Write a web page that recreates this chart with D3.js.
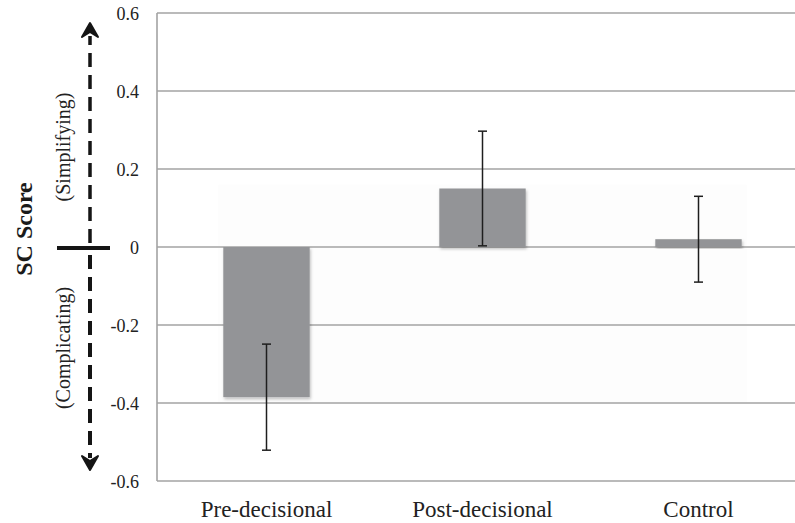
<!DOCTYPE html>
<html>
<head>
<meta charset="utf-8">
<script src="https://cdn.jsdelivr.net/npm/d3@7"></script>
<style>
  html, body { margin: 0; padding: 0; background: #fff; }
  svg { display: block; }
</style>
</head>
<body>
<svg id="chart" width="795" height="523"></svg>
<script>
// Mean SC score per condition, with error-bar half widths
const categories = ["Pre-decisional", "Post-decisional", "Control"];
const means = [-0.385, 0.15, 0.02];
const errors = [0.136, 0.147, 0.11];
const yTicks = [-0.6, -0.4, -0.2, 0, 0.2, 0.4, 0.6];
const yTickLabels = ["-0.6", "-0.4", "-0.2", "0", "0.2", "0.4", "0.6"];

const svg = d3.select("#chart");
const serif = "'Liberation Serif', 'Times New Roman', serif";

const plotLeft = 157, plotRight = 795, plotTop = 13, plotBottom = 481;

const y = d3.scaleLinear().domain([-0.6, 0.6]).range([plotBottom, plotTop]);
const x = d3.scaleBand().domain(categories)
  .range([158.5, 806.5]).paddingInner(0.6).paddingOuter(0.3);

const defs = svg.append("defs");
const sh = defs.append("filter").attr("id", "barShadow")
  .attr("x", "-10%").attr("y", "-10%").attr("width", "130%").attr("height", "130%");
sh.append("feDropShadow").attr("dx", 1).attr("dy", 2)
  .attr("stdDeviation", 1.5).attr("flood-color", "#000").attr("flood-opacity", 0.25);
const blur = defs.append("filter").attr("id", "soft")
  .attr("x", "-200%").attr("y", "-10%").attr("width", "500%").attr("height", "120%");
blur.append("feGaussianBlur").attr("stdDeviation", 2.4);

// faint plot-area panel behind the bars
svg.append("rect")
  .attr("x", x(categories[0]) - 5)
  .attr("y", y(0.16))
  .attr("width", x(categories[2]) + x.bandwidth() + 5 - (x(categories[0]) - 5))
  .attr("height", y(-0.4) - y(0.16))
  .attr("fill", "#fdfdfd");

// horizontal gridlines
svg.append("g").selectAll("line").data(yTicks).join("line")
  .attr("x1", plotLeft).attr("x2", plotRight)
  .attr("y1", d => y(d)).attr("y2", d => y(d))
  .attr("stroke", "#a3a3a3").attr("stroke-width", 1.4);

// left axis line
svg.append("line")
  .attr("x1", plotLeft).attr("x2", plotLeft).attr("y1", y(0.6)).attr("y2", y(-0.6))
  .attr("stroke", "#a3a3a3").attr("stroke-width", 1.6);

// y tick labels
const yAxis = d3.axisLeft(y).tickValues(yTicks)
  .tickFormat((d, i) => yTickLabels[i]).tickSize(0).tickPadding(0);
const yg = svg.append("g").attr("transform", "translate(139,0)").call(yAxis);
yg.select(".domain").remove();
yg.selectAll("text").attr("font-family", serif).attr("font-size", 18)
  .attr("fill", "#222").attr("dy", "0.35em");

// bars
svg.append("g").selectAll("rect").data(categories).join("rect")
  .attr("x", d => x(d))
  .attr("width", x.bandwidth())
  .attr("y", (d, i) => y(Math.max(0, means[i])))
  .attr("height", (d, i) => Math.abs(y(means[i]) - y(0)))
  .attr("fill", "#939497")
  .attr("filter", "url(#barShadow)");

// error bars
const eg = svg.append("g").attr("stroke", "#1e1e1e").attr("stroke-width", 1.5);
categories.forEach((c, i) => {
  const cx = x(c) + x.bandwidth() / 2;
  const hi = y(means[i] + errors[i]), lo = y(means[i] - errors[i]);
  eg.append("line").attr("x1", cx).attr("x2", cx).attr("y1", hi).attr("y2", lo);
  eg.append("line").attr("x1", cx - 4.5).attr("x2", cx + 4.5).attr("y1", hi).attr("y2", hi);
  eg.append("line").attr("x1", cx - 4.5).attr("x2", cx + 4.5).attr("y1", lo).attr("y2", lo);
});

// category labels
svg.append("g").selectAll("text").data(categories).join("text")
  .attr("x", d => x(d) + x.bandwidth() / 2)
  .attr("y", 517)
  .attr("text-anchor", "middle")
  .attr("font-family", serif).attr("font-size", 23).attr("fill", "#222")
  .text(d => d);

// axis title and direction arrow
svg.append("text")
  .attr("transform", "translate(32,229) rotate(-90)")
  .attr("text-anchor", "middle")
  .attr("font-family", serif).attr("font-size", 24).attr("font-weight", "bold")
  .attr("fill", "#1a1a1a").text("SC Score");
svg.append("text")
  .attr("transform", "translate(70,147) rotate(-90)")
  .attr("text-anchor", "middle")
  .attr("font-family", serif).attr("font-size", 20).attr("fill", "#222")
  .text("(Simplifying)");
svg.append("text")
  .attr("transform", "translate(70,348) rotate(-90)")
  .attr("text-anchor", "middle")
  .attr("font-family", serif).attr("font-size", 20).attr("fill", "#222")
  .text("(Complicating)");

const ax = 90, z = y(0);
// upper shaft: soft halo plus sharp core
svg.append("line").attr("x1", ax).attr("x2", ax).attr("y1", z - 4).attr("y2", 36)
  .attr("stroke", "#555").attr("stroke-width", 6).attr("stroke-dasharray", "14 8")
  .attr("filter", "url(#soft)");
svg.append("line").attr("x1", ax).attr("x2", ax).attr("y1", z - 4).attr("y2", 36)
  .attr("stroke", "#151515").attr("stroke-width", 3.5).attr("stroke-dasharray", "14 8");
// lower shaft
svg.append("line").attr("x1", ax).attr("x2", ax).attr("y1", z + 8).attr("y2", 458)
  .attr("stroke", "#151515").attr("stroke-width", 4).attr("stroke-dasharray", "14 8");
// arrow heads
svg.append("path")
  .attr("d", `M${ax},23 L${ax + 8},37 L${ax},32 L${ax - 8},37 Z`)
  .attr("fill", "#151515").attr("stroke", "#151515").attr("stroke-width", 2)
  .attr("stroke-linejoin", "round");
svg.append("path")
  .attr("d", `M${ax},470 L${ax + 8},456 L${ax},461 L${ax - 8},456 Z`)
  .attr("fill", "#151515").attr("stroke", "#151515").attr("stroke-width", 2)
  .attr("stroke-linejoin", "round");
// zero marker
svg.append("line").attr("x1", 57).attr("x2", 110).attr("y1", z + 1).attr("y2", z + 1)
  .attr("stroke", "#151515").attr("stroke-width", 4);
</script>
</body>
</html>
